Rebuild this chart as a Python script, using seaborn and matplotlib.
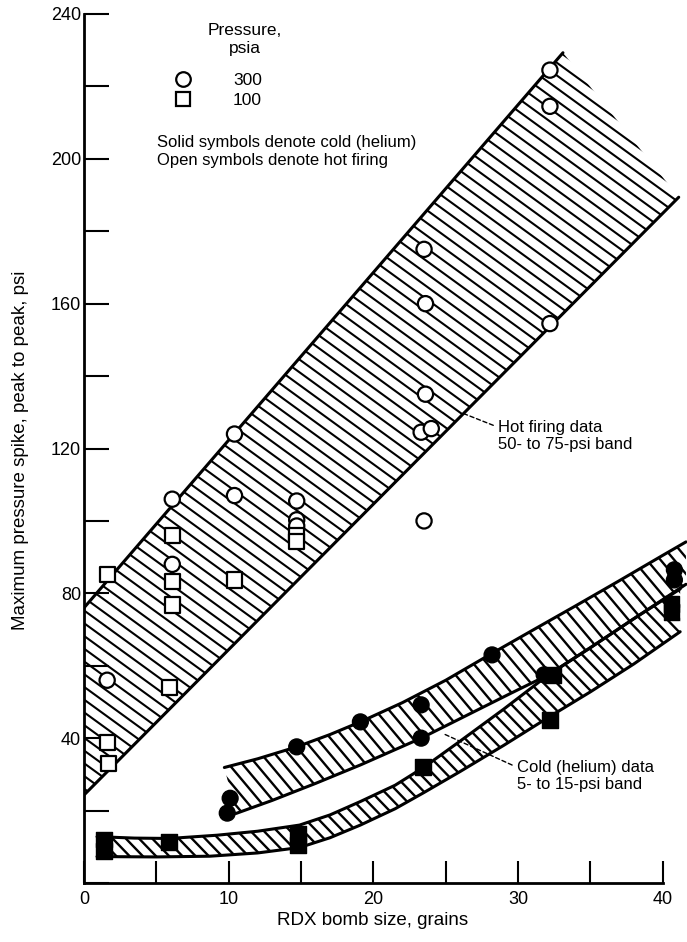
import numpy as np
import pandas as pd
import matplotlib
matplotlib.use("Agg")
import matplotlib.pyplot as plt
import seaborn as sns
from matplotlib.patches import Polygon
from matplotlib.lines import Line2D

# ---------------- data ----------------
hot300_x = [1.6, 6.1, 6.1, 10.4, 10.4, 14.7, 14.7, 14.7, 23.5, 23.6, 23.6, 23.3, 24.0, 23.5, 32.2, 32.2, 32.2]
hot300_y = [56, 106, 88, 124, 107, 105.5, 100.3, 98.6, 175, 160, 135, 124.5, 125.5, 100, 224.5, 214.5, 154.5]

hot100_x = [1.6, 1.6, 1.7, 6.1, 6.1, 6.1, 5.9, 10.4, 14.7, 14.7]
hot100_y = [85.3, 38.9, 33.1, 95.9, 83.2, 76.8, 54.1, 83.7, 96.0, 94.3]

cold300_x = [10.1, 9.9, 14.7, 19.1, 23.3, 23.3, 28.2, 31.8, 40.8, 40.8]
cold300_y = [23.4, 19.3, 37.6, 44.5, 49.2, 40.0, 63.0, 57.5, 86.5, 83.7]

cold100_x = [1.4, 1.4, 5.9, 14.8, 14.8, 23.45, 32.4, 32.2, 40.6, 40.6]
cold100_y = [12.0, 8.8, 11.4, 13.5, 10.5, 32.1, 57.5, 45.0, 77.0, 74.8]

# band edges
hot_top_x = [0, 33.1]
hot_top_y = [76, 229.3]
hot_bot_x = [0, 41.1]
hot_bot_y = [24.3, 189.4]

c300_top_x = [9.7, 12, 14.7, 17, 19.1, 22, 25, 28.1, 31, 34, 37, 40, 41.6]
c300_top_y = [31.9, 34.3, 37.6, 41.0, 44.5, 49.8, 56.0, 63.2, 69.8, 76.6, 83.5, 90.5, 94.2]
c300_bot_x = [10.5, 13, 16, 19.1, 23.3, 26.7, 29.5, 32.1, 35, 38, 41.6]
c300_bot_y = [19.2, 22.8, 27.5, 32.6, 40.0, 46.8, 52.4, 57.5, 65.0, 73.0, 82.5]

c100_top_x = [0.9, 3.5, 5.9, 9.2, 12, 14.9, 17, 19.1, 21.5, 23.5, 26, 29, 32.1, 35, 38, 41.2]
c100_top_y = [12.8, 12.4, 12.3, 13.2, 14.3, 16.0, 18.8, 22.5, 27.0, 32.0, 39.2, 48.0, 57.5, 65.0, 73.0, 81.2]
c100_bot_x = [0.9, 5, 8.7, 12, 14.9, 17, 19.1, 21.5, 23.5, 26, 29, 32.2, 35, 38, 41.2]
c100_bot_y = [7.3, 7.2, 7.4, 8.3, 9.8, 12.5, 16.0, 20.5, 25.0, 30.8, 38.0, 46.0, 52.8, 60.5, 69.4]

x_ticks_major = [0, 10, 20, 30, 40]
x_ticks_minor = [5, 15, 25, 35]
y_ticks_major = [0, 40, 80, 120, 160, 200, 240]
y_tick_labels = ["", "40", "80", "120", "160", "200", "240"]
y_ticks_minor = [20, 60, 100, 140, 180, 220]

# ---------------- style ----------------
sns.set_theme(style="white")
plt.rcParams["font.family"] = ["Liberation Sans", "DejaVu Sans"]
plt.rcParams["text.color"] = "black"
plt.rcParams["axes.labelcolor"] = "black"

W, H = 687, 942
fig = plt.figure(figsize=(W / 100, H / 100), dpi=100)
left_px, right_px, top_px, bot_px = 84, 687, 14, 883
ax = fig.add_axes([left_px / W, (H - bot_px) / H, (right_px - left_px) / W, (bot_px - top_px) / H])
ax.set_facecolor("white")
ax.set_xlim(0, (right_px - left_px) / 14.47)
ax.set_ylim(0, 240)
ax.set_autoscale_on(False)

for s in ["top", "right"]:
    ax.spines[s].set_visible(False)
for s in ["left", "bottom"]:
    ax.spines[s].set_color("black")
    ax.spines[s].set_linewidth(2.0)
ax.spines["bottom"].set_bounds(0, 40)
ax.spines["left"].set_bounds(0, 240)

ax.set_xticks(x_ticks_major)
ax.set_xticks(x_ticks_minor, minor=True)
ax.set_yticks(y_ticks_major)
ax.set_yticklabels(y_tick_labels)
ax.set_yticks(y_ticks_minor, minor=True)
ax.tick_params(axis="x", which="both", direction="in", length=16, width=1.5, color="black",
               labelcolor="black", labelsize=13, pad=6, bottom=True)
ax.tick_params(axis="y", which="both", direction="in", length=18, width=1.5, color="black",
               labelcolor="black", labelsize=13, pad=2, left=True)


def hatch_band(top_x, top_y, bot_x, bot_y, angle, spacing, lw=1.5):
    verts = np.column_stack([np.r_[top_x, bot_x[::-1]], np.r_[top_y, bot_y[::-1]]])
    patch = Polygon(verts, closed=True, fill=False, edgecolor="none")
    ax.add_patch(patch)
    disp = ax.transData.transform(verts)
    a = np.deg2rad(angle)
    d = np.array([np.cos(a), -np.sin(a)])
    n = np.array([np.sin(a), np.cos(a)])
    proj = disp @ n
    center = disp.mean(axis=0)
    inv = ax.transData.inverted()
    for c in np.arange(proj.min() + spacing / 2, proj.max(), spacing):
        base = center + (c - center @ n) * n
        pts = inv.transform(np.array([base - 1500 * d, base + 1500 * d]))
        ln, = ax.plot(pts[:, 0], pts[:, 1], color="black", lw=lw, solid_capstyle="butt", zorder=2)
        ln.set_clip_path(patch)


hatch_band(hot_top_x, hot_top_y, hot_bot_x, hot_bot_y, angle=36, spacing=10.3)
hatch_band(c300_top_x, c300_top_y, c300_bot_x, c300_bot_y, angle=50, spacing=10.5, lw=1.7)
hatch_band(c100_top_x, c100_top_y, c100_bot_x, c100_bot_y, angle=46, spacing=9.5, lw=1.7)

for ex, ey in [(hot_top_x, hot_top_y), (hot_bot_x, hot_bot_y),
               (c300_top_x, c300_top_y), (c300_bot_x, c300_bot_y),
               (c100_top_x, c100_top_y), (c100_bot_x, c100_bot_y)]:
    ax.plot(ex, ey, color="black", lw=2.2, zorder=3, solid_capstyle="round")

# ---------------- points ----------------
frames = []
for xs, ys, p, f in [(hot300_x, hot300_y, "300", "hot"), (hot100_x, hot100_y, "100", "hot"),
                     (cold300_x, cold300_y, "300", "cold"), (cold100_x, cold100_y, "100", "cold")]:
    frames.append(pd.DataFrame({"x": xs, "y": ys, "pressure": p, "firing": f}))
df = pd.concat(frames, ignore_index=True)
mk = {"300": "o", "100": "s"}

sns.scatterplot(data=df[df.firing == "hot"], x="x", y="y", style="pressure", markers=mk,
                color="white", edgecolor="black", linewidth=1.6, s=120, legend=False, ax=ax, zorder=5)
sns.scatterplot(data=df[df.firing == "cold"], x="x", y="y", style="pressure", markers=mk,
                color="black", edgecolor="black", linewidth=1.0, s=130, legend=False, ax=ax, zorder=6)

# ---------------- labels / legend ----------------
ax.set_xlabel("RDX bomb size, grains", fontsize=13.5, color="black")
ax.set_ylabel("Maximum pressure spike, peak to peak, psi", fontsize=13.5, color="black")
ax.xaxis.set_label_coords((373 - left_px) / (right_px - left_px), -(912 - bot_px) / (bot_px - top_px))
ax.yaxis.set_label_coords(-(84 - 29) / (right_px - left_px), (bot_px - 450) / (bot_px - top_px))

ax.text(11.1, 233.0, "Pressure,\npsia", ha="center", va="center", fontsize=12.5, linespacing=1.2)
handles = [Line2D([], [], marker="o", ls="", mfc="white", mec="black", mew=1.6, ms=10.5, label="300"),
           Line2D([], [], marker="s", ls="", mfc="white", mec="black", mew=1.6, ms=10.5, label="100")]
ax.legend(handles=handles, loc="upper left",
          bbox_to_anchor=((174 - left_px) / (right_px - left_px), (bot_px - 73) / (bot_px - top_px)),
          frameon=False, fontsize=12.5, handlelength=1.0, handletextpad=2.4, labelspacing=0.25,
          borderpad=0, borderaxespad=0)
ax.text(5.05, 202.0, "Solid symbols denote cold (helium)\nOpen symbols denote hot firing",
        ha="left", va="center", fontsize=12, linespacing=1.25)

ax.annotate("Hot firing data\n50- to 75-psi band", xy=(26.2, 129.7), xytext=(28.6, 123.4),
            ha="left", va="center", fontsize=12, linespacing=1.2,
            arrowprops=dict(arrowstyle="-", linestyle=(0, (3, 2)), lw=1.0, color="black",
                            relpos=(0, 0.78), shrinkA=1, shrinkB=0))
ax.annotate("Cold (helium) data\n5- to 15-psi band", xy=(24.8, 41.3), xytext=(29.9, 29.5),
            ha="left", va="center", fontsize=12, linespacing=1.2,
            arrowprops=dict(arrowstyle="-", linestyle=(0, (3, 2)), lw=1.0, color="black",
                            relpos=(0, 0.78), shrinkA=1, shrinkB=0))

fig.savefig("out.png", dpi=100, facecolor="white")
